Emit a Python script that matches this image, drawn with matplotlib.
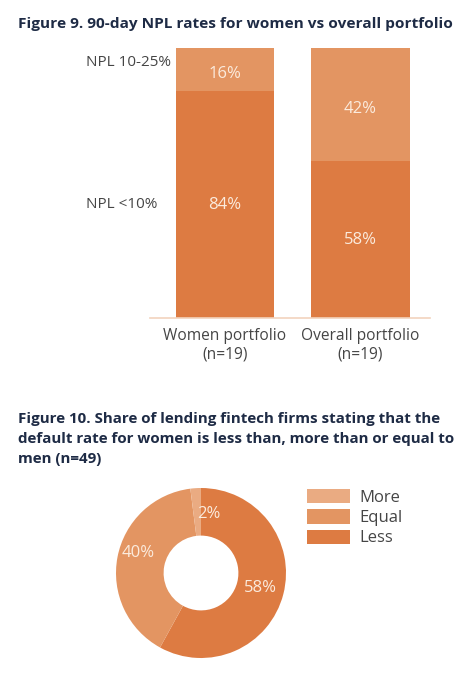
import numpy as np
import matplotlib
matplotlib.use('Agg')
import matplotlib.pyplot as plt

# Figure 9 data
portfolios = ['Women portfolio\n(n=19)', 'Overall portfolio\n(n=19)']
npl_low = [84, 58]     # NPL <10%
npl_high = [16, 42]    # NPL 10-25%
npl_names = ['NPL <10%', 'NPL 10-25%']

# Figure 10 data
donut_labels = ['Less', 'Equal', 'More']
donut_values = [58, 40, 2]

dark = '#DD7B42'
mid = '#E39562'
light = '#EAAB82'
navy = '#1E2B45'
grey = '#454545'
txt_white = '#FBEBDD'

plt.rcParams['font.family'] = ['Open Sans', 'DejaVu Sans']

W, H = 474, 678
fig = plt.figure(figsize=(W / 100, H / 100), dpi=100)

def px_axes(left, top, right, bottom):
    return fig.add_axes([left / W, 1 - bottom / H, (right - left) / W, (bottom - top) / H])

# ---- Figure 9 ----
fig.text(18 / W, 1 - 24 / H, 'Figure 9. 90-day NPL rates for women vs overall portfolio',
         fontsize=11.1, fontweight='bold', color=navy, va='center', ha='left')

ax = px_axes(150, 48, 430, 318)
x = np.arange(len(portfolios))
ax.bar(x, npl_low, width=0.725, color=dark)
ax.bar(x, npl_high, bottom=npl_low, width=0.725, color=mid)
for i in range(len(x)):
    ax.text(x[i], npl_low[i] / 2, '%d%%' % npl_low[i], ha='center', va='center',
            color=txt_white, fontsize=12)
    ax.text(x[i], npl_low[i] + npl_high[i] / 2 - 1.5, '%d%%' % npl_high[i], ha='center',
            va='center', color=txt_white, fontsize=12)
ax.set_xlim(-0.553, 1.513)
ax.set_ylim(0, 100)
ax.set_xticks(x)
ax.set_xticklabels(portfolios, fontsize=11.2, color=grey, linespacing=1.25)
ax.tick_params(axis='x', length=0, pad=7)
ax.set_yticks([])
for s in ['top', 'right', 'left']:
    ax.spines[s].set_visible(False)
ax.spines['bottom'].set_color('#F2D3BD')
ax.spines['bottom'].set_linewidth(1.2)

# row labels on the left
tr = ax.get_yaxis_transform()
ax.text((86 - 150) / 280, 94.5, npl_names[1], transform=tr, ha='left', va='center',
        fontsize=11, color=grey)
ax.text((86 - 150) / 280, 42, npl_names[0], transform=tr, ha='left', va='center',
        fontsize=11, color=grey)

# ---- Figure 10 ----
title10 = ('Figure 10. Share of lending fintech firms stating that the\n'
           'default rate for women is less than, more than or equal to\n'
           'men (n=49)')
fig.text(18 / W, 1 - 412 / H, title10, fontsize=10.9, fontweight='bold', color=navy,
         va='top', ha='left', linespacing=1.55)

ax2 = px_axes(116, 488, 286, 658)
wedges, texts, autotexts = ax2.pie(donut_values, colors=[dark, mid, light], startangle=90,
                                   counterclock=False, radius=1,
                                   wedgeprops=dict(width=0.56, edgecolor='none'),
                                   autopct='%d%%', pctdistance=0.72,
                                   textprops=dict(color=txt_white, fontsize=12))
# small slice label sits to the right of the sliver
autotexts[2].set_ha('left')
autotexts[2].set_position((-0.05, 0.7))
autotexts[1].set_position((-0.74, 0.23))
ax2.set_xlim(-1, 1)
ax2.set_ylim(-1, 1)
ax2.set_aspect('equal')

handles = [wedges[2], wedges[1], wedges[0]]
names = [donut_labels[2], donut_labels[1], donut_labels[0]]
fig.legend(handles, names, loc='upper left', bbox_to_anchor=(292 / W, 1 - 474 / H),
           frameon=False, fontsize=12, handlelength=2.55, handleheight=0.95,
           labelspacing=0.2, handletextpad=0.6, labelcolor=grey)

fig.savefig('out.png', dpi=100)
